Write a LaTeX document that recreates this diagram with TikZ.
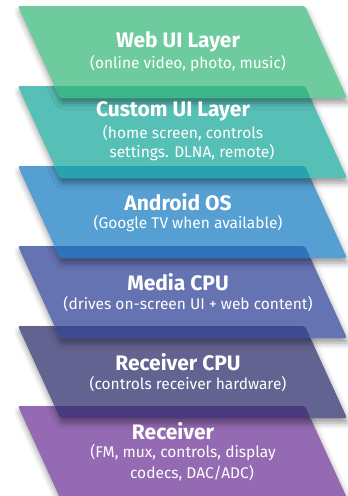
\documentclass[tikz,border=0pt]{standalone}
\usepackage{fontspec}
\setmainfont{Fira Sans}
\usepackage{tikz}
\usetikzlibrary{shadows.blur}
\definecolor{webcol}{HTML}{6DCB9E}
\definecolor{customcol}{HTML}{57C0B6}
\definecolor{androidcol}{HTML}{559FD3}
\definecolor{mediacol}{HTML}{6673B2}
\definecolor{rcpucol}{HTML}{626391}
\definecolor{recvcol}{HTML}{946BB2}
\definecolor{webband}{HTML}{3DB78A}
\definecolor{customband}{HTML}{27A3AE}
\definecolor{androidband}{HTML}{2E73B8}
\definecolor{mediaband}{HTML}{3F4A93}
\definecolor{rcpuband}{HTML}{4A3A7D}
\tikzset{
  slab/.style={rounded corners=2pt,
               blur shadow={shadow xshift=1pt, shadow yshift=-5pt,
                            shadow blur radius=6pt, shadow opacity=40}},
  band/.style={rounded corners=2pt},
  title/.style={text=white, inner sep=0pt, font=\bfseries\fontsize{21}{23}\selectfont},
  sub/.style={text=white, inner sep=0pt, font=\fontsize{15.5}{17}\selectfont},
}

\begin{document}
\begin{tikzpicture}[x=1pt, y=-1pt]
  \useasboundingbox (0,0) rectangle (348,496);

  % layers, bottom one first
  \foreach \k/\col/\bnd in {5/recvcol/none, 4/rcpucol/rcpuband, 3/mediacol/mediaband,
                            2/androidcol/androidband, 1/customcol/customband, 0/webcol/webband} {
    \fill[slab, \col] (18, 6+80*\k) -- (305, 6+80*\k) -- (347, 98+80*\k) -- (60, 98+80*\k) -- cycle;
    \ifnum\k<5
      \fill[band, \bnd] (54.5, 86+80*\k) -- (305, 86+80*\k) -- (310.5, 98+80*\k) -- (60, 98+80*\k) -- cycle;
    \fi
  }

  \node[title] (web) at (178, 42) {Web UI Layer};
  \node[sub] (web-sub) at (188, 64) {(online video, photo, music)};

  \node[title] (custom) at (173, 111) {Custom UI Layer};
  \node[sub] (custom-sub1) at (183, 133) {(home screen, controls};
  \node[sub] (custom-sub2) at (192, 153) {settings. DLNA, remote)};

  \node[title] (android) at (178, 202) {Android OS};
  \node[sub] (android-sub) at (188, 224) {(Google TV when available)};

  \node[title] (media) at (178, 282) {Media CPU};
  \node[sub] (media-sub) at (188, 304) {(drives on-screen UI + web content)};

  \node[title] (rcpu) at (178, 362) {Receiver CPU};
  \node[sub] (rcpu-sub) at (188, 384) {(controls receiver hardware)};

  \node[title] (recv) at (173, 431) {Receiver};
  \node[sub] (recv-sub1) at (183, 453) {(FM, mux, controls, display};
  \node[sub] (recv-sub2) at (192, 473) {codecs, DAC/ADC)};
\end{tikzpicture}
\end{document}
